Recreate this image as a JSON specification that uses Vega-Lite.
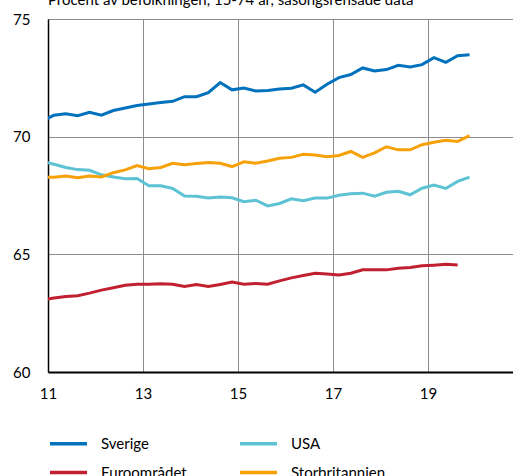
{
  "$schema": "https://vega.github.io/schema/vega-lite/v6.json",
  "width": 465,
  "height": 353,
  "autosize": {"type": "none"},
  "padding": {"left": 48, "top": 19, "right": 0, "bottom": 104},
  "background": "white",
  "config": {"font": "Lato", "view": {"stroke": null}},
  "title": {"text": "Procent av befolkningen, 15-74 år, säsongsrensade data", "anchor": "start", "frame": "group", "fontSize": 15, "fontWeight": "normal", "color": "#000", "baseline": "alphabetic", "offset": 9, "dy": 17},
  "data": {"values": [
    {"t": 10.875, "serie": "Sverige", "v": 70.65},
    {"t": 11.125, "serie": "Sverige", "v": 70.91},
    {"t": 11.375, "serie": "Sverige", "v": 70.97},
    {"t": 11.625, "serie": "Sverige", "v": 70.89},
    {"t": 11.875, "serie": "Sverige", "v": 71.04},
    {"t": 12.125, "serie": "Sverige", "v": 70.91},
    {"t": 12.375, "serie": "Sverige", "v": 71.11},
    {"t": 12.625, "serie": "Sverige", "v": 71.22},
    {"t": 12.875, "serie": "Sverige", "v": 71.32},
    {"t": 13.125, "serie": "Sverige", "v": 71.39},
    {"t": 13.375, "serie": "Sverige", "v": 71.45},
    {"t": 13.625, "serie": "Sverige", "v": 71.50},
    {"t": 13.875, "serie": "Sverige", "v": 71.70},
    {"t": 14.125, "serie": "Sverige", "v": 71.70},
    {"t": 14.375, "serie": "Sverige", "v": 71.87},
    {"t": 14.625, "serie": "Sverige", "v": 72.30},
    {"t": 14.875, "serie": "Sverige", "v": 71.99},
    {"t": 15.125, "serie": "Sverige", "v": 72.07},
    {"t": 15.375, "serie": "Sverige", "v": 71.94},
    {"t": 15.625, "serie": "Sverige", "v": 71.96},
    {"t": 15.875, "serie": "Sverige", "v": 72.03},
    {"t": 16.125, "serie": "Sverige", "v": 72.06},
    {"t": 16.375, "serie": "Sverige", "v": 72.20},
    {"t": 16.625, "serie": "Sverige", "v": 71.89},
    {"t": 16.875, "serie": "Sverige", "v": 72.23},
    {"t": 17.125, "serie": "Sverige", "v": 72.51},
    {"t": 17.375, "serie": "Sverige", "v": 72.64},
    {"t": 17.625, "serie": "Sverige", "v": 72.92},
    {"t": 17.875, "serie": "Sverige", "v": 72.79},
    {"t": 18.125, "serie": "Sverige", "v": 72.85},
    {"t": 18.375, "serie": "Sverige", "v": 73.03},
    {"t": 18.625, "serie": "Sverige", "v": 72.96},
    {"t": 18.875, "serie": "Sverige", "v": 73.06},
    {"t": 19.125, "serie": "Sverige", "v": 73.36},
    {"t": 19.375, "serie": "Sverige", "v": 73.16},
    {"t": 19.625, "serie": "Sverige", "v": 73.44},
    {"t": 19.875, "serie": "Sverige", "v": 73.48},
    {"t": 10.875, "serie": "USA", "v": 68.95},
    {"t": 11.125, "serie": "USA", "v": 68.83},
    {"t": 11.375, "serie": "USA", "v": 68.69},
    {"t": 11.625, "serie": "USA", "v": 68.60},
    {"t": 11.875, "serie": "USA", "v": 68.57},
    {"t": 12.125, "serie": "USA", "v": 68.38},
    {"t": 12.375, "serie": "USA", "v": 68.29},
    {"t": 12.625, "serie": "USA", "v": 68.21},
    {"t": 12.875, "serie": "USA", "v": 68.22},
    {"t": 13.125, "serie": "USA", "v": 67.91},
    {"t": 13.375, "serie": "USA", "v": 67.91},
    {"t": 13.625, "serie": "USA", "v": 67.80},
    {"t": 13.875, "serie": "USA", "v": 67.48},
    {"t": 14.125, "serie": "USA", "v": 67.47},
    {"t": 14.375, "serie": "USA", "v": 67.39},
    {"t": 14.625, "serie": "USA", "v": 67.44},
    {"t": 14.875, "serie": "USA", "v": 67.40},
    {"t": 15.125, "serie": "USA", "v": 67.24},
    {"t": 15.375, "serie": "USA", "v": 67.30},
    {"t": 15.625, "serie": "USA", "v": 67.06},
    {"t": 15.875, "serie": "USA", "v": 67.16},
    {"t": 16.125, "serie": "USA", "v": 67.36},
    {"t": 16.375, "serie": "USA", "v": 67.28},
    {"t": 16.625, "serie": "USA", "v": 67.39},
    {"t": 16.875, "serie": "USA", "v": 67.39},
    {"t": 17.125, "serie": "USA", "v": 67.51},
    {"t": 17.375, "serie": "USA", "v": 67.57},
    {"t": 17.625, "serie": "USA", "v": 67.60},
    {"t": 17.875, "serie": "USA", "v": 67.47},
    {"t": 18.125, "serie": "USA", "v": 67.64},
    {"t": 18.375, "serie": "USA", "v": 67.68},
    {"t": 18.625, "serie": "USA", "v": 67.53},
    {"t": 18.875, "serie": "USA", "v": 67.81},
    {"t": 19.125, "serie": "USA", "v": 67.94},
    {"t": 19.375, "serie": "USA", "v": 67.80},
    {"t": 19.625, "serie": "USA", "v": 68.10},
    {"t": 19.875, "serie": "USA", "v": 68.28},
    {"t": 10.875, "serie": "Euroområdet", "v": 63.06},
    {"t": 11.125, "serie": "Euroområdet", "v": 63.14},
    {"t": 11.375, "serie": "Euroområdet", "v": 63.21},
    {"t": 11.625, "serie": "Euroområdet", "v": 63.24},
    {"t": 11.875, "serie": "Euroområdet", "v": 63.35},
    {"t": 12.125, "serie": "Euroområdet", "v": 63.48},
    {"t": 12.375, "serie": "Euroområdet", "v": 63.58},
    {"t": 12.625, "serie": "Euroområdet", "v": 63.69},
    {"t": 12.875, "serie": "Euroområdet", "v": 63.73},
    {"t": 13.125, "serie": "Euroområdet", "v": 63.73},
    {"t": 13.375, "serie": "Euroområdet", "v": 63.75},
    {"t": 13.625, "serie": "Euroområdet", "v": 63.73},
    {"t": 13.875, "serie": "Euroområdet", "v": 63.63},
    {"t": 14.125, "serie": "Euroområdet", "v": 63.72},
    {"t": 14.375, "serie": "Euroområdet", "v": 63.63},
    {"t": 14.625, "serie": "Euroområdet", "v": 63.72},
    {"t": 14.875, "serie": "Euroområdet", "v": 63.82},
    {"t": 15.125, "serie": "Euroområdet", "v": 63.73},
    {"t": 15.375, "serie": "Euroområdet", "v": 63.76},
    {"t": 15.625, "serie": "Euroområdet", "v": 63.73},
    {"t": 15.875, "serie": "Euroområdet", "v": 63.87},
    {"t": 16.125, "serie": "Euroområdet", "v": 64.00},
    {"t": 16.375, "serie": "Euroområdet", "v": 64.10},
    {"t": 16.625, "serie": "Euroområdet", "v": 64.20},
    {"t": 16.875, "serie": "Euroområdet", "v": 64.16},
    {"t": 17.125, "serie": "Euroområdet", "v": 64.12},
    {"t": 17.375, "serie": "Euroområdet", "v": 64.20},
    {"t": 17.625, "serie": "Euroområdet", "v": 64.34},
    {"t": 17.875, "serie": "Euroområdet", "v": 64.34},
    {"t": 18.125, "serie": "Euroområdet", "v": 64.34},
    {"t": 18.375, "serie": "Euroområdet", "v": 64.41},
    {"t": 18.625, "serie": "Euroområdet", "v": 64.44},
    {"t": 18.875, "serie": "Euroområdet", "v": 64.51},
    {"t": 19.125, "serie": "Euroområdet", "v": 64.54},
    {"t": 19.375, "serie": "Euroområdet", "v": 64.58},
    {"t": 19.625, "serie": "Euroområdet", "v": 64.55},
    {"t": 10.875, "serie": "Storbritannien", "v": 68.27},
    {"t": 11.125, "serie": "Storbritannien", "v": 68.28},
    {"t": 11.375, "serie": "Storbritannien", "v": 68.33},
    {"t": 11.625, "serie": "Storbritannien", "v": 68.26},
    {"t": 11.875, "serie": "Storbritannien", "v": 68.33},
    {"t": 12.125, "serie": "Storbritannien", "v": 68.29},
    {"t": 12.375, "serie": "Storbritannien", "v": 68.47},
    {"t": 12.625, "serie": "Storbritannien", "v": 68.59},
    {"t": 12.875, "serie": "Storbritannien", "v": 68.77},
    {"t": 13.125, "serie": "Storbritannien", "v": 68.64},
    {"t": 13.375, "serie": "Storbritannien", "v": 68.69},
    {"t": 13.625, "serie": "Storbritannien", "v": 68.87},
    {"t": 13.875, "serie": "Storbritannien", "v": 68.81},
    {"t": 14.125, "serie": "Storbritannien", "v": 68.86},
    {"t": 14.375, "serie": "Storbritannien", "v": 68.90},
    {"t": 14.625, "serie": "Storbritannien", "v": 68.87},
    {"t": 14.875, "serie": "Storbritannien", "v": 68.73},
    {"t": 15.125, "serie": "Storbritannien", "v": 68.93},
    {"t": 15.375, "serie": "Storbritannien", "v": 68.87},
    {"t": 15.625, "serie": "Storbritannien", "v": 68.97},
    {"t": 15.875, "serie": "Storbritannien", "v": 69.08},
    {"t": 16.125, "serie": "Storbritannien", "v": 69.12},
    {"t": 16.375, "serie": "Storbritannien", "v": 69.25},
    {"t": 16.625, "serie": "Storbritannien", "v": 69.22},
    {"t": 16.875, "serie": "Storbritannien", "v": 69.15},
    {"t": 17.125, "serie": "Storbritannien", "v": 69.20},
    {"t": 17.375, "serie": "Storbritannien", "v": 69.37},
    {"t": 17.625, "serie": "Storbritannien", "v": 69.12},
    {"t": 17.875, "serie": "Storbritannien", "v": 69.31},
    {"t": 18.125, "serie": "Storbritannien", "v": 69.57},
    {"t": 18.375, "serie": "Storbritannien", "v": 69.44},
    {"t": 18.625, "serie": "Storbritannien", "v": 69.44},
    {"t": 18.875, "serie": "Storbritannien", "v": 69.66},
    {"t": 19.125, "serie": "Storbritannien", "v": 69.76},
    {"t": 19.375, "serie": "Storbritannien", "v": 69.85},
    {"t": 19.625, "serie": "Storbritannien", "v": 69.80},
    {"t": 19.875, "serie": "Storbritannien", "v": 70.04}
  ]},
  "mark": {"type": "line", "strokeWidth": 3, "clip": true},
  "encoding": {
    "x": {
      "field": "t", "type": "quantitative",
      "scale": {"domain": [11, 20.79], "nice": false, "zero": false},
      "axis": {"values": [11, 13, 15, 17, 19], "format": "d", "title": null, "grid": true, "gridColor": "#8c8c8c", "gridWidth": 1, "ticks": false, "domainColor": "#000", "domainWidth": 2, "labelFontSize": 15, "labelColor": "#000", "labelPadding": 14, "labelFlush": false}
    },
    "y": {
      "field": "v", "type": "quantitative",
      "scale": {"domain": [60, 75], "nice": false, "zero": false},
      "axis": {"values": [60, 65, 70, 75], "title": null, "grid": true, "gridColor": "#8c8c8c", "gridWidth": 1, "ticks": false, "domainColor": "#000", "domainWidth": 1.5, "labelFontSize": 15, "labelColor": "#000", "labelPadding": 18}
    },
    "color": {
      "field": "serie", "type": "nominal",
      "scale": {"domain": ["Sverige", "USA", "Euroområdet", "Storbritannien"], "range": ["#0071bc", "#5cc2d4", "#c0202f", "#f7a10a"]},
      "legend": {"title": null, "orient": "none", "legendX": 0, "legendY": 404, "columns": 2, "direction": "horizontal", "symbolType": "stroke", "symbolSize": 1369, "symbolStrokeWidth": 3.5, "labelFontSize": 15, "labelColor": "#000", "labelOffset": 12, "columnPadding": 46, "rowPadding": -3, "padding": 0}
    }
  }
}
